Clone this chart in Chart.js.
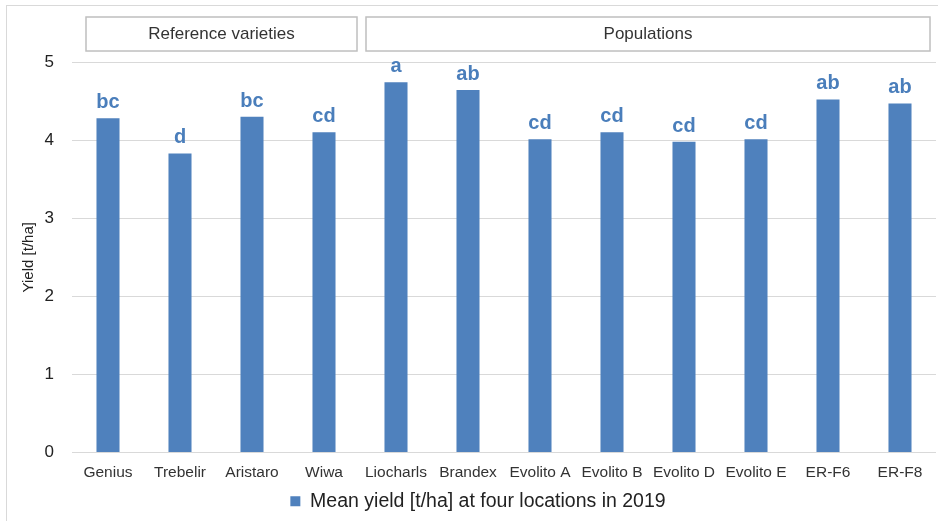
<!DOCTYPE html>
<html>
<head>
<meta charset="utf-8">
<script src="https://cdn.jsdelivr.net/npm/chart.js@4/dist/chart.umd.min.js"></script>
<style>
  html, body { margin: 0; padding: 0; background: #fff; }
  #wrap { position: relative; width: 938px; height: 521px; }
  #frame { position: absolute; left: 6px; top: 5px; right: -4px; bottom: -4px;
           border-left: 1.5px solid #d9d9d9; border-top: 1.5px solid #d9d9d9; }
  canvas { position: absolute; left: 0; top: 0; }
</style>
</head>
<body>
<div id="wrap"><div id="frame"></div><canvas id="c"></canvas></div>
<script>
// data
var categories = ["Genius", "Trebelir", "Aristaro", "Wiwa", "Liocharls", "Brandex",
  "Evolito A", "Evolito B", "Evolito D", "Evolito E", "ER-F6", "ER-F8"];
var meanYield = [4.28, 3.83, 4.30, 4.10, 4.74, 4.64, 4.01, 4.10, 3.98, 4.01, 4.52, 4.47];
var letters = ["bc", "d", "bc", "cd", "a", "ab", "cd", "cd", "cd", "cd", "ab", "ab"];
var groupNames = ["Reference varieties", "Populations"];
var groupFirst = [0, 4];
var groupLast = [3, 11];
var yTicks = [0, 1, 2, 3, 4, 5];

var BLUE = "#4f81bd";
var FONT = "'Liberation Sans', Arial, sans-serif";

// significance letters over bars
var letterPlugin = {
  id: "letters",
  afterDatasetsDraw: function (chart) {
    var ctx = chart.ctx, meta = chart.getDatasetMeta(0);
    ctx.save();
    ctx.font = "bold 20px " + FONT;
    ctx.fillStyle = "#4a7ebb";
    ctx.textAlign = "center";
    ctx.textBaseline = "alphabetic";
    meta.data.forEach(function (bar, i) {
      ctx.fillText(letters[i], bar.x, bar.y - 10);
    });
    ctx.restore();
  }
};

// group header boxes
var groupPlugin = {
  id: "groups",
  afterDraw: function (chart) {
    var ctx = chart.ctx, x = chart.scales.x;
    var step = (x.right - x.left) / categories.length;
    var insetL = [14, 6], insetR = [3, 6];
    ctx.save();
    ctx.strokeStyle = "#bfbfbf";
    ctx.lineWidth = 1.5;
    ctx.fillStyle = "#333";
    ctx.font = "17px " + FONT;
    ctx.textAlign = "center";
    ctx.textBaseline = "middle";
    groupNames.forEach(function (name, g) {
      var l = x.getPixelForValue(groupFirst[g]) - step / 2 + insetL[g];
      var r = x.getPixelForValue(groupLast[g]) + step / 2 - insetR[g];
      ctx.strokeRect(l, 17, r - l, 34);
      ctx.fillText(name, (l + r) / 2, 34.5);
    });
    ctx.restore();
  }
};

new Chart(document.getElementById("c"), {
  type: "bar",
  data: {
    labels: categories,
    datasets: [{
      label: "Mean yield [t/ha] at four locations in 2019",
      data: meanYield,
      backgroundColor: BLUE,
      borderWidth: 0,
      barPercentage: 0.32,
      categoryPercentage: 1
    }]
  },
  options: {
    responsive: true,
    maintainAspectRatio: false,
    animation: false,
    layout: { padding: { top: 62, left: 20, right: 2, bottom: 0 } },
    plugins: {
      tooltip: { enabled: false },
      legend: {
        position: "bottom",
        labels: {
          boxWidth: 10, boxHeight: 10, padding: 9,
          color: "#222",
          font: { family: FONT, size: 19.5 }
        }
      }
    },
    scales: {
      x: {
        grid: { display: false, drawTicks: false },
        border: { display: false },
        ticks: { color: "#333", font: { family: FONT, size: 15.5 }, padding: 11, maxRotation: 0, autoSkip: false },
        afterFit: function (s) { s.height = 30; }
      },
      y: {
        min: 0, max: 5,
        afterBuildTicks: function (s) { s.ticks = yTicks.map(function (v) { return { value: v }; }); },
        grid: { color: "#d9d9d9", lineWidth: 1, drawTicks: false },
        border: { display: false },
        ticks: { color: "#222", font: { family: FONT, size: 17 }, padding: 18 },
        title: { display: true, text: "Yield [t/ha]", color: "#222", font: { family: FONT, size: 15 }, padding: { top: 0, bottom: 0 } },
        afterFit: function (s) { s.width = 52; }
      }
    }
  },
  plugins: [letterPlugin, groupPlugin]
});
</script>
</body>
</html>
